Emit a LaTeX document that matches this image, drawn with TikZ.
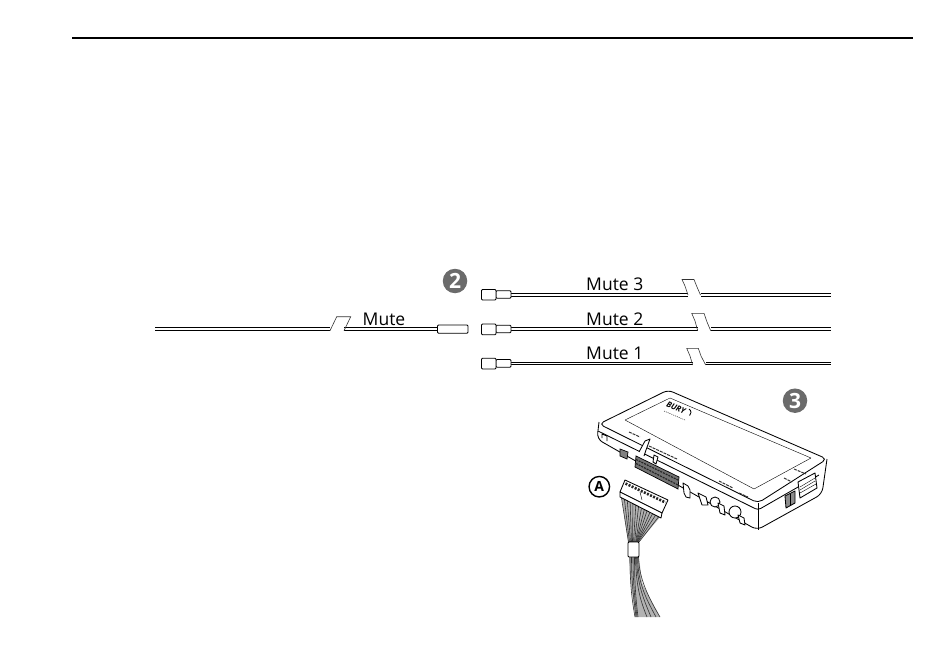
\documentclass[tikz,border=0pt]{standalone}
\usepackage{fontspec}
\setmainfont{Open Sans}
\usetikzlibrary{positioning}
\definecolor{badgegray}{gray}{0.42}
\tikzset{
 cablewire/.style={line width=0.65pt},
 plugline/.style={line width=0.8pt,rounded corners=1pt,fill=white},
 tapeline/.style={line width=0.6pt,black!80},
 mutelabel/.style={inner sep=0pt,anchor=base west,font=\fontsize{17.5}{20}\selectfont},
 stepbadge/.style={circle,fill=badgegray,text=white,inner sep=0pt,minimum size=24.5pt,font=\fontsize{21}{21}\selectfont\bfseries},
 boxline/.style={line width=0.85pt,line join=round},
 fineline/.style={line width=0.4pt,line join=round},
 wireline/.style={line width=0.6pt,black!80},
 printline/.style={line width=1pt,black!80,dash pattern=on 3pt off 1pt}
}
\begin{document}
\begin{tikzpicture}[x=1pt,y=-1pt]
 \useasboundingbox (0,0) rectangle (950,655);
 \draw[line width=1.5pt] (72,38)--(913,38);
 % left cable
 \draw[cablewire] (155,327.8)--(437,327.8);
 \draw[cablewire] (155,330.4)--(437,330.4);
 \fill[white] (330,326)--(344,326)--(344,332)--(330,332)--cycle;
 \draw[tapeline] (330,330.7)--(336.7,316.7)--(350.7,316.7)--(344,330.7);
 \draw[plugline] (437.5,325)--(468,325)--(468,333.3)--(437.5,333.3)--cycle;
 \node[mutelabel] (mute) at (362.5,325) {Mute};
 % mute 3
 \draw[cablewire] (511,293.4)--(831,293.4);
 \draw[cablewire] (511,296)--(831,296);
 \fill[white] (688,292)--(700.5,292)--(700.5,297.5)--(688,297.5)--cycle;
 \draw[tapeline] (688,295)--(685,286)--(682,279.5)--(694,279.5)--(697,287)--(700.5,295);
 \draw[plugline] (496,290.7)--(511,290.7)--(511,298.3)--(496,298.3)--cycle;
 \draw[plugline] (481.5,289.5)--(496,289.5)--(496,300)--(481.5,300)--cycle;
 \node[mutelabel] (mutethree) at (586,290.5) {Mute 3};
 % mute 2
 \draw[cablewire] (511,327.8)--(831,327.8);
 \draw[cablewire] (511,330.4)--(831,330.4);
 \fill[white] (698,326)--(710.7,326)--(710.7,332)--(698,332)--cycle;
 \draw[tapeline] (697.7,330.7)--(695,321)--(691.7,313.3)--(704,313.3)--(707,322)--(710.7,330.7);
 \draw[plugline] (496,325.2)--(511,325.2)--(511,332.8)--(496,332.8)--cycle;
 \draw[plugline] (481.5,324)--(496,324)--(496,334.7)--(481.5,334.7)--cycle;
 \node[mutelabel] (mutetwo) at (586,325) {Mute 2};
 % mute 1
 \draw[cablewire] (511,362.2)--(831,362.2);
 \draw[cablewire] (511,364.8)--(831,364.8);
 \fill[white] (693,360.5)--(705.7,360.5)--(705.7,366.5)--(693,366.5)--cycle;
 \draw[tapeline] (692.7,365)--(690,356)--(686.7,348.3)--(698.3,348.3)--(701,356)--(705.7,365);
 \draw[plugline] (496,359.5)--(511,359.5)--(511,367.2)--(496,367.2)--cycle;
 \draw[plugline] (481.5,358.3)--(496,358.3)--(496,369)--(481.5,369)--cycle;
 \node[mutelabel] (muteone) at (586,359.3) {Mute 1};
 % badges
 \node[stepbadge] (badgetwo) at (455,281) {2};
 \node[stepbadge] (badgethree) at (795,400.7) {3};
 \node[circle,draw,line width=1.4pt,inner sep=0pt,minimum size=20.5pt,font=\fontsize{14}{14}\selectfont\bfseries] (badgea) at (599.3,486.7) {A};
 % module body
 \draw[boxline,rounded corners=5pt] (599,424)--(668,390)--(827,459)--(758,503)--cycle;
 \draw[boxline,rounded corners=6pt] (599,422)--(597,439)--(757,530)--(822,494)--(827,459);
 \draw[boxline,rounded corners=3pt] (598,431)--(758,510)--(819,475);
 \draw[boxline] (758,503)--(758,530);
 \draw[fineline] (625,420)--(670,398)--(811,458)--(754,489)--cycle;
 % module text
 \node[inner sep=0pt,rotate=-23,font=\fontsize{8}{8}\selectfont\bfseries\itshape] (burylogo) at (676,408) {BURY};
 \draw[fineline,dash pattern=on 1pt off 1pt] (664,411)--(685,420);
 \draw[boxline] (689,409) arc (-60:50:4);
 \draw[printline] (629,432)--(640,437);
 \draw[printline] (649,446)--(677,459);
 \draw[printline] (719,481)--(733,488);
 \draw[printline] (739,493)--(748,497);
 \draw[printline] (784,478)--(792,482);
 \draw[printline] (794,469)--(806,474);
 % module sockets
 \draw[boxline,fill=white] (639,452)--(645,441)--(650,439)--(646,450)--(644,456);
 \draw[line width=0.7pt,fill=black!55] (636,456)--(679,477)--(678,489)--(635,467)--cycle;
 \draw[black!85,line width=1.2pt,dash pattern=on 2pt off 1pt] (636,459.5)--(679,480.5);
 \draw[black!85,line width=1.2pt,dash pattern=on 2pt off 1pt] (636,463.5)--(678,485);
 \draw[boxline,fill=white] (654,455)--(658,457)--(656,464)--(653,462)--cycle;
 \draw[line width=0.7pt,fill=black!50] (620,449)--(628,452)--(627,459)--(620,456)--cycle;
 \draw[boxline] (602,438)--(602,434)--(607,436)--(607,441);
 \draw[boxline,fill=white] (683,483)--(688,486)--(690,490)--(690,498)--(686,497)--(684,493)--cycle;
 \draw[boxline,fill=white] (698,493)--(706,497)--(708,505)--(702,505)--cycle;
 \draw[boxline,fill=white] (715,502) circle (5);
 \draw[boxline,fill=white] (718,503)--(724,506)--(725,515)--(720,513)--cycle;
 \draw[boxline,fill=white] (735,512) circle (6);
 \draw[boxline,fill=white] (738,515)--(744,518)--(745,525)--(740,523)--cycle;
 \draw[boxline,fill=black!45] (785,496)--(795,491)--(795,503)--(786,508)--cycle;
 \draw[boxline] (790,494)--(790,506);
 \draw[boxline,fill=white] (798,482)--(815,473)--(817,488)--(800,498)--cycle;
 \draw[fineline] (800,487)--(815,478);
 \draw[fineline] (800,490)--(815,481);
 \draw[fineline] (800,493)--(816,484);
 % plug wires
 \fill[black!30] (621,493)--(661,516)--(639,542)--(628,542)--cycle;
 \draw[wireline] (621,495)--(628.5,542);
 \draw[wireline] (624,496)--(629.5,542);
 \draw[wireline] (627,497)--(630.5,542);
 \draw[wireline] (630,499)--(631.5,542);
 \draw[wireline] (633,500)--(632.5,542);
 \draw[wireline] (636,502)--(633.5,542);
 \draw[wireline] (639,503)--(634.5,542);
 \draw[wireline] (642,505)--(635.5,542);
 \draw[wireline] (645,507)--(636,542);
 \draw[wireline] (648,508)--(636.5,542);
 \draw[wireline] (651,510)--(637,542);
 \draw[wireline] (654,511)--(637.5,542);
 \draw[wireline] (657,513)--(638,542);
 \draw[wireline] (660,515)--(639,542);
 % plug body
 \draw[boxline,fill=white] (625,480)--(668,500)--(662,513)--(620,492)--cycle;
 \draw[line width=2.6pt,black!85,dash pattern=on 2pt off 1.4pt] (625.5,483.5)--(665.5,502.5);
 \draw[boxline,fill=white] (620,492)--(620,497)--(661,518)--(662,513)--cycle;
 \draw[fineline] (640,492)--(642,500);
 % lower bundle
 \fill[black!30] (629,557)--(639,557)--(642,583)--(660,617)--(635,617)--(630,575)--cycle;
 \draw[wireline] (630,557) .. controls (630,585) and (632,600) .. (635,617);
 \draw[wireline] (631.5,557) .. controls (631.5,585) and (634,600) .. (636,617);
 \draw[wireline] (633,557) .. controls (633,585) and (635,600) .. (637,617);
 \draw[wireline] (634.5,557) .. controls (634.5,585) and (636,600) .. (638,617);
 \draw[wireline] (635.5,557) .. controls (636,585) and (640,600) .. (647,617);
 \draw[wireline] (636.5,557) .. controls (637,585) and (644,600) .. (651,617);
 \draw[wireline] (637.5,557) .. controls (638,585) and (647,600) .. (656,617);
 \draw[wireline] (638.5,557) .. controls (639,580) and (650,600) .. (660,617);
 % sleeve
 \draw[boxline,fill=white,rounded corners=1pt] (628,542)--(639,542)--(639,557)--(628,557)--cycle;
\end{tikzpicture}
\end{document}
